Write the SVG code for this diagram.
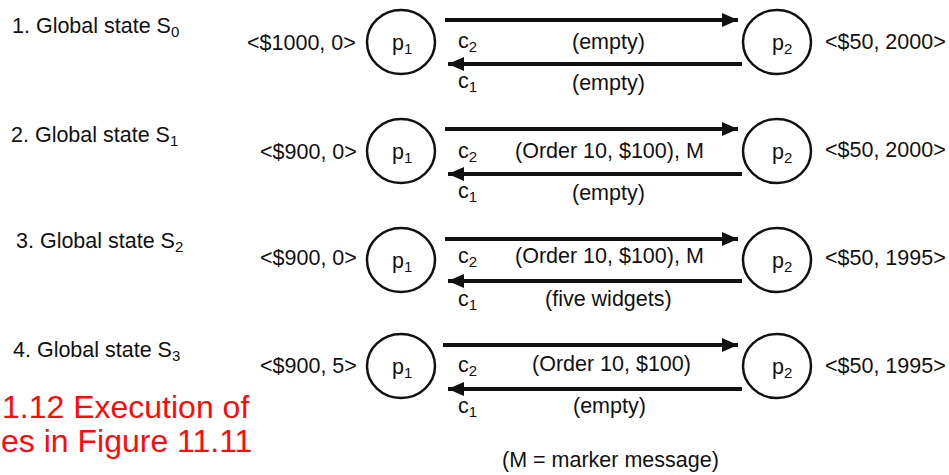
<svg xmlns="http://www.w3.org/2000/svg" width="949" height="475" viewBox="0 0 949 475">
<style>
text{font-family:"Liberation Sans",Arial,sans-serif;font-size:21.5px;fill:#111}
.sub{font-size:15px}
.proc{fill:#fff;stroke:#111;stroke-width:2.5}
.ch{stroke:#111;stroke-width:4;fill:none}
.red{fill:#ff0a0a;font-size:32px}
</style>
<defs>
<marker id="ah" markerUnits="userSpaceOnUse" markerWidth="18" markerHeight="16" viewBox="0 0 18 16" refX="16" refY="8" orient="auto">
<path d="M0,1 L16,8 L0,15 Z" fill="#111"/>
</marker>
</defs>
<rect width="949" height="475" fill="#fff"/>
<g id="connectors">
<line class="ch" x1="445" y1="20" x2="738" y2="20" marker-end="url(#ah)"/>
<line class="ch" x1="742" y1="64" x2="448" y2="64" marker-end="url(#ah)"/>
<line class="ch" x1="445" y1="129" x2="738" y2="129" marker-end="url(#ah)"/>
<line class="ch" x1="742" y1="174" x2="448" y2="174" marker-end="url(#ah)"/>
<line class="ch" x1="445" y1="239" x2="738" y2="239" marker-end="url(#ah)"/>
<line class="ch" x1="742" y1="281" x2="448" y2="281" marker-end="url(#ah)"/>
<line class="ch" x1="443" y1="345" x2="738" y2="345" marker-end="url(#ah)"/>
<line class="ch" x1="742" y1="389" x2="448" y2="389" marker-end="url(#ah)"/>
</g>
<g id="row1">
<text x="12" y="33">1. Global state S<tspan class="sub" dy="4">0</tspan></text>
<text x="247" y="50">&lt;$1000, 0&gt;</text>
<text x="458" y="48">c<tspan class="sub" dy="4">2</tspan></text>
<text x="572" y="49">(empty)</text>
<text x="458" y="88">c<tspan class="sub" dy="4">1</tspan></text>
<text x="572" y="90">(empty)</text>
<text x="825" y="49">&lt;$50, 2000&gt;</text>
</g>
<g id="s0_p1"><ellipse class="proc" cx="401" cy="42" rx="34" ry="32"/><text x="392" y="50">p<tspan class="sub" dy="4">1</tspan></text></g>
<g id="s0_p2"><ellipse class="proc" cx="777" cy="42" rx="34" ry="32"/><text x="772" y="50">p<tspan class="sub" dy="4">2</tspan></text></g>
<g id="row2">
<text x="11" y="142">2. Global state S<tspan class="sub" dy="4">1</tspan></text>
<text x="260" y="159">&lt;$900, 0&gt;</text>
<text x="458" y="158">c<tspan class="sub" dy="4">2</tspan></text>
<text x="515" y="158">(Order 10, $100), M</text>
<text x="458" y="198">c<tspan class="sub" dy="4">1</tspan></text>
<text x="572" y="200">(empty)</text>
<text x="825" y="157">&lt;$50, 2000&gt;</text>
</g>
<g id="s1_p1"><ellipse class="proc" cx="401" cy="151" rx="34" ry="32"/><text x="392" y="159">p<tspan class="sub" dy="4">1</tspan></text></g>
<g id="s1_p2"><ellipse class="proc" cx="777" cy="151" rx="34" ry="32"/><text x="772" y="159">p<tspan class="sub" dy="4">2</tspan></text></g>
<g id="row3">
<text x="16" y="248">3. Global state S<tspan class="sub" dy="4">2</tspan></text>
<text x="260" y="265">&lt;$900, 0&gt;</text>
<text x="458" y="263">c<tspan class="sub" dy="4">2</tspan></text>
<text x="515" y="263">(Order 10, $100), M</text>
<text x="458" y="306">c<tspan class="sub" dy="4">1</tspan></text>
<text x="545" y="306">(five widgets)</text>
<text x="825" y="265">&lt;$50, 1995&gt;</text>
</g>
<g id="s2_p1"><ellipse class="proc" cx="401" cy="260" rx="34" ry="32"/><text x="392" y="268">p<tspan class="sub" dy="4">1</tspan></text></g>
<g id="s2_p2"><ellipse class="proc" cx="777" cy="260" rx="34" ry="32"/><text x="772" y="268">p<tspan class="sub" dy="4">2</tspan></text></g>
<g id="row4">
<text x="13" y="357">4. Global state S<tspan class="sub" dy="4">3</tspan></text>
<text x="260" y="373">&lt;$900, 5&gt;</text>
<text x="458" y="372">c<tspan class="sub" dy="4">2</tspan></text>
<text x="532" y="371">(Order 10, $100)</text>
<text x="458" y="413">c<tspan class="sub" dy="4">1</tspan></text>
<text x="573" y="413">(empty)</text>
<text x="825" y="373">&lt;$50, 1995&gt;</text>
</g>
<g id="s3_p1"><ellipse class="proc" cx="401" cy="366" rx="34" ry="32"/><text x="392" y="374">p<tspan class="sub" dy="4">1</tspan></text></g>
<g id="s3_p2"><ellipse class="proc" cx="777" cy="366" rx="34" ry="32"/><text x="772" y="374">p<tspan class="sub" dy="4">2</tspan></text></g>
<g id="legend">
<text x="502" y="467">(M = marker message)</text>
</g>
<g id="caption">
<text class="red" x="2" y="418">1.12 Execution of</text>
<text class="red" x="1" y="452">es in Figure 11.11</text>
</g>
</svg>
